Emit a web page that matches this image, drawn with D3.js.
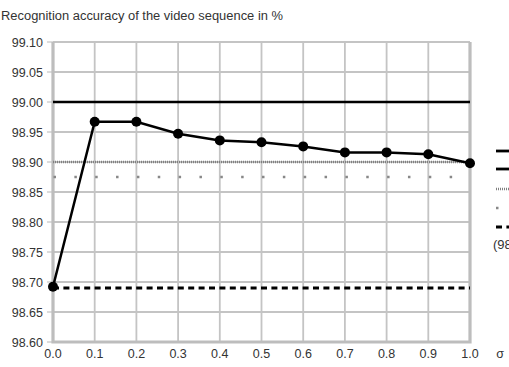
<!DOCTYPE html>
<html>
<head>
<meta charset="utf-8">
<script src="https://cdn.jsdelivr.net/npm/d3@7"></script>
<style>
  body { margin: 0; background: #fff; overflow: hidden; }
  text { font-family: "Liberation Sans", Arial, sans-serif; fill: #333; }
</style>
</head>
<body>
<div id="chart"></div>
<script>
// sigma values and measured accuracy
var sigmas = [0.0, 0.1, 0.2, 0.3, 0.4, 0.5, 0.6, 0.7, 0.8, 0.9, 1.0];
var accuracy = [98.692, 98.967, 98.967, 98.947, 98.936, 98.933, 98.926, 98.916, 98.916, 98.913, 98.898];

// reference levels (horizontal lines)
var refSolid = 99.00;
var refDotted = 98.90;
var refSparse = 98.875;
var refDashed = 98.69;

var yTicks = [98.60, 98.65, 98.70, 98.75, 98.80, 98.85, 98.90, 98.95, 99.00, 99.05, 99.10];
var xTicks = [0.0, 0.1, 0.2, 0.3, 0.4, 0.5, 0.6, 0.7, 0.8, 0.9, 1.0];

var title = 'Recognition accuracy of the video sequence in %';

var width = 509, height = 367;
var plotL = 53, plotR = 470, plotT = 42, plotB = 342;

var svg = d3.select('#chart').append('svg')
    .attr('width', width)
    .attr('height', height);

var x = d3.scaleLinear().domain([0, 1]).range([plotL, plotR]);
var y = d3.scaleLinear().domain([98.6, 99.1]).range([plotB, plotT]);

svg.append('text')
    .attr('x', 1).attr('y', 20)
    .attr('font-size', '12px')
    .attr('textLength', 282)
    .attr('lengthAdjust', 'spacingAndGlyphs')
    .text(title);

// grid
var grid = svg.append('g');
grid.selectAll('.hgrid').data(yTicks).enter().append('line')
    .attr('x1', plotL).attr('x2', plotR)
    .attr('y1', function(d) { return y(d); })
    .attr('y2', function(d) { return y(d); })
    .attr('stroke', '#c4c4c4').attr('stroke-width', 1.8);
grid.selectAll('.vgrid').data(xTicks).enter().append('line')
    .attr('x1', function(d) { return x(d); })
    .attr('x2', function(d) { return x(d); })
    .attr('y1', plotT).attr('y2', plotB)
    .attr('stroke', '#c4c4c4').attr('stroke-width', 1.8);

// y tick marks
grid.selectAll('.ytick').data(yTicks).enter().append('line')
    .attr('x1', plotL - 6).attr('x2', plotL)
    .attr('y1', function(d) { return y(d); })
    .attr('y2', function(d) { return y(d); })
    .attr('stroke', '#c4c4c4').attr('stroke-width', 1.2);

// frame (left, bottom, right)
svg.append('path')
    .attr('d', 'M' + plotL + ',' + plotT + 'V' + plotB + 'H' + plotR + 'V' + plotT)
    .attr('fill', 'none')
    .attr('stroke', '#bdbdbd').attr('stroke-width', 3.2);

// axis labels
svg.selectAll('.ylab').data(yTicks).enter().append('text')
    .attr('x', 43)
    .attr('y', function(d) { return y(d) + 4.5; })
    .attr('text-anchor', 'end')
    .attr('font-size', '12.5px')
    .text(function(d) { return d3.format('.2f')(d); });

svg.selectAll('.xlab').data(xTicks).enter().append('text')
    .attr('x', function(d) { return x(d); })
    .attr('y', 358)
    .attr('text-anchor', 'middle')
    .attr('font-size', '12.5px')
    .text(function(d) { return d3.format('.1f')(d); });

svg.append('text')
    .attr('x', 500).attr('y', 358)
    .attr('text-anchor', 'middle')
    .attr('font-size', '12.5px')
    .text('σ');

// reference lines
var hline = function(v, color, w, dash) {
  var l = svg.append('line')
      .attr('x1', plotL).attr('x2', plotR)
      .attr('y1', y(v)).attr('y2', y(v))
      .attr('stroke', color).attr('stroke-width', w);
  if (dash) l.attr('stroke-dasharray', dash);
  return l;
};
hline(refSolid, '#000', 2.6);
hline(refDotted, '#808080', 2.6, '1,1');
hline(refSparse, '#888', 2.5, '2.5,18.35').attr('x1', plotL + 0.5);
hline(refDashed, '#000', 2.8, '6,4.4');

// data line
var line = d3.line()
    .x(function(d, i) { return x(sigmas[i]); })
    .y(function(d) { return y(d); });

svg.append('path')
    .datum(accuracy)
    .attr('d', line)
    .attr('fill', 'none')
    .attr('stroke', '#000').attr('stroke-width', 2.5);

svg.selectAll('.pt').data(accuracy).enter().append('circle')
    .attr('cx', function(d, i) { return x(sigmas[i]); })
    .attr('cy', function(d) { return y(d); })
    .attr('r', 5)
    .attr('fill', '#000');

// legend keys (the rest is cut off by the window edge)
var legend = svg.append('g').attr('transform', 'translate(496,0)');
var legY = [151, 169, 189, 208, 227];
var legStyle = [
  { c: '#000', w: 2.8, dash: null },
  { c: '#000', w: 2.8, dash: null },
  { c: '#808080', w: 2.4, dash: '1,1' },
  { c: '#888', w: 2.5, dash: '2.5,18' },
  { c: '#000', w: 2.8, dash: '6,4.4' }
];
legY.forEach(function(ly, i) {
  var l = legend.append('line')
      .attr('x1', 0).attr('x2', 24)
      .attr('y1', ly).attr('y2', ly)
      .attr('stroke', legStyle[i].c).attr('stroke-width', legStyle[i].w);
  if (legStyle[i].dash) l.attr('stroke-dasharray', legStyle[i].dash);
});
legend.append('text')
    .attr('x', -3).attr('y', 249)
    .attr('font-size', '13px')
    .text('(98.69%)');
</script>
</body>
</html>
